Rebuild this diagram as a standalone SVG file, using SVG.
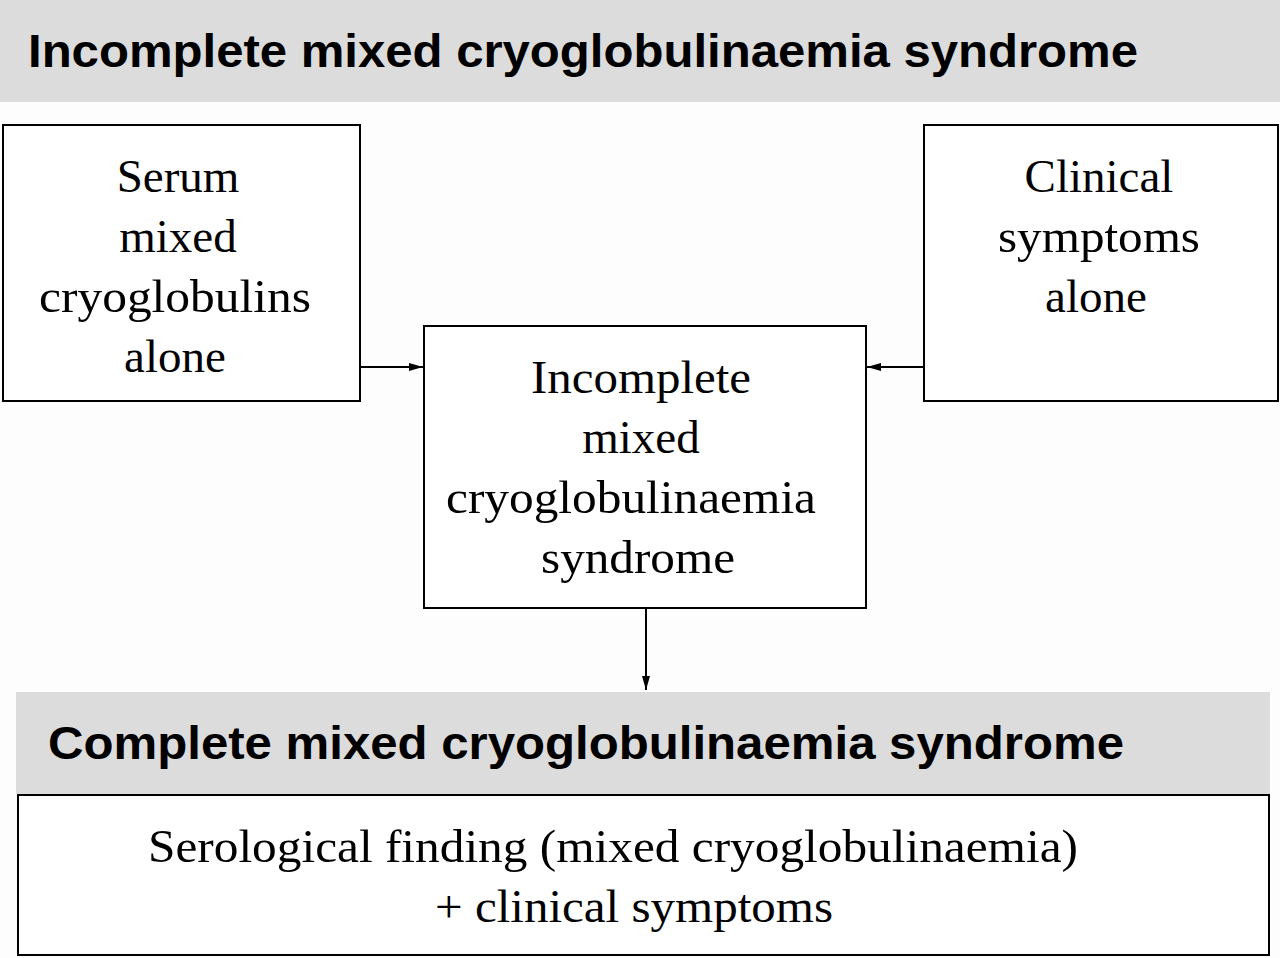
<svg xmlns="http://www.w3.org/2000/svg" width="1280" height="958" viewBox="0 0 1280 958">
<style>
.box{fill:#fff;stroke:#000;stroke-width:2}
.band{fill:#dcdcdc}
.h{font-family:"Liberation Sans",Arial,sans-serif;font-weight:bold;font-size:46px;fill:#000}
.t{font-family:"Liberation Serif","Times New Roman",serif;font-size:47px;fill:#000;text-anchor:middle}
.c{stroke:#000;stroke-width:2;fill:none;marker-end:url(#ah)}
</style>
<defs><marker id="ah" viewBox="0 0 14 8" refX="14" refY="4" markerWidth="14" markerHeight="8" markerUnits="userSpaceOnUse" orient="auto"><path d="M0,0L14,4L0,8Z" fill="#000"/></marker></defs>
<rect width="1280" height="958" fill="#fdfdfd"/>
<g id="header1"><rect class="band" x="0" y="0" width="1280" height="102"/><text class="h" x="28" y="67" textLength="1110" lengthAdjust="spacingAndGlyphs">Incomplete mixed cryoglobulinaemia syndrome</text></g>
<g id="serum"><rect class="box" x="3" y="125" width="357" height="276"/><text class="t"><tspan x="178" y="192">Serum</tspan><tspan x="178" y="252">mixed</tspan><tspan x="175" y="312" textLength="272" lengthAdjust="spacingAndGlyphs">cryoglobulins</tspan><tspan x="175" y="372">alone</tspan></text></g>
<g id="clinical"><rect class="box" x="924" y="125" width="354" height="276"/><text class="t"><tspan x="1099" y="192">Clinical</tspan><tspan x="1099" y="252" textLength="202" lengthAdjust="spacingAndGlyphs">symptoms</tspan><tspan x="1096" y="312">alone</tspan></text></g>
<g id="incomplete"><rect class="box" x="424" y="326" width="442" height="282"/><text class="t"><tspan x="641" y="393" textLength="220" lengthAdjust="spacingAndGlyphs">Incomplete</tspan><tspan x="641" y="453">mixed</tspan><tspan x="631" y="513" textLength="370" lengthAdjust="spacingAndGlyphs">cryoglobulinaemia</tspan><tspan x="638" y="573" textLength="194" lengthAdjust="spacingAndGlyphs">syndrome</tspan></text></g>
<g id="connectors">
<line class="c" x1="360" y1="367" x2="423" y2="367"/>
<line class="c" x1="924" y1="367" x2="867" y2="367"/>
<line class="c" x1="646" y1="608" x2="646" y2="690"/>
</g>
<g id="header2"><rect class="band" x="16" y="692" width="1254" height="102"/><text class="h" x="48" y="759" textLength="1076" lengthAdjust="spacingAndGlyphs">Complete mixed cryoglobulinaemia syndrome</text></g>
<g id="complete"><rect class="box" x="18" y="795" width="1251" height="160"/><text class="t"><tspan x="613" y="862" textLength="930" lengthAdjust="spacingAndGlyphs">Serological finding (mixed cryoglobulinaemia)</tspan><tspan x="634" y="922" textLength="398" lengthAdjust="spacingAndGlyphs">+ clinical symptoms</tspan></text></g>
</svg>
